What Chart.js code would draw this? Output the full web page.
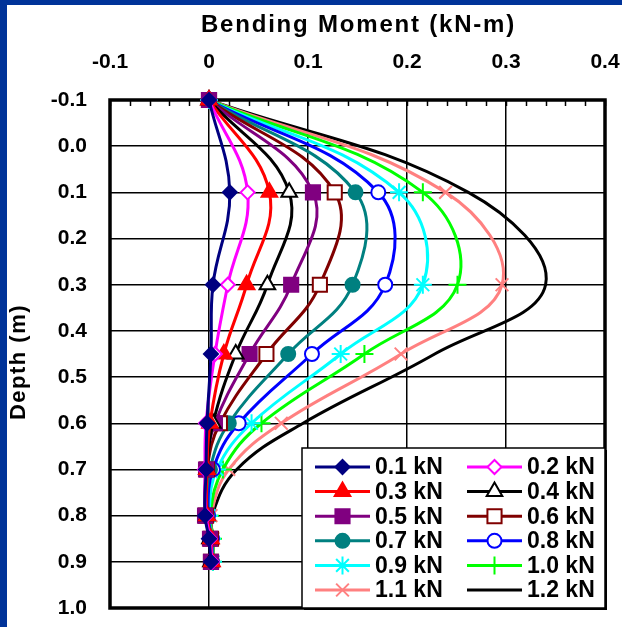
<!DOCTYPE html>
<html>
<head>
<meta charset="utf-8">
<script src="https://cdn.jsdelivr.net/npm/chart.js@4.4.1/dist/chart.umd.min.js"></script>
<style>
  html, body { margin: 0; padding: 0; background: #fff; overflow: hidden; }
  canvas { display: block; }
</style>
</head>
<body>
<canvas id="momentChart" width="622" height="627"></canvas>
<script>
// depths where the moment was measured (m)
const depths = [-0.1, 0.1, 0.3, 0.45, 0.6, 0.7, 0.8, 0.85, 0.9];

// series names (load at the top)
const loads = ['0.1 kN', '0.2 kN', '0.3 kN', '0.4 kN', '0.5 kN', '0.6 kN',
               '0.7 kN', '0.8 kN', '0.9 kN', '1.0 kN', '1.1 kN', '1.2 kN'];

// bending moment (kN-m) at each depth, one array per load
const m01 = [0, 0.021, 0.004, 0.002, -0.002, -0.003, -0.004, 0.000, 0.002];
const m02 = [0, 0.039, 0.019, 0.006, -0.003, -0.004, -0.003, 0.001, 0.003];
const m03 = [0, 0.061, 0.038, 0.015, 0.001, -0.002, -0.002, 0.002, 0.003];
const m04 = [0, 0.081, 0.059, 0.027, 0.004, -0.002, -0.002, 0.001, 0.002];
const m05 = [0, 0.105, 0.083, 0.041, 0.006, -0.003, -0.004, 0.001, 0.002];
const m06 = [0, 0.127, 0.112, 0.058, 0.011, -0.002, -0.003, 0.002, 0.002];
const m07 = [0, 0.148, 0.145, 0.080, 0.020, 0.001, -0.002, 0.002, 0.003];
const m08 = [0, 0.171, 0.178, 0.104, 0.030, 0.004, -0.001, 0.003, 0.003];
const m09 = [0, 0.192, 0.216, 0.133, 0.043, 0.008, 0.000, 0.003, 0.004];
const m10 = [0, 0.216, 0.251, 0.157, 0.053, 0.014, 0.001, 0.004, 0.004];
const m11 = [0, 0.239, 0.296, 0.194, 0.073, 0.020, 0.002, 0.004, 0.004];
const m12 = [0, 0.262, 0.340, 0.228, 0.095, 0.028, 0.003, 0.004, 0.004];

// axis ticks
const xTicks = [-0.1, 0, 0.1, 0.2, 0.3, 0.4];
const xTickLabels = ['-0.1', '0', '0.1', '0.2', '0.3', '0.4'];
const yTicks = [-0.1, 0.0, 0.1, 0.2, 0.3, 0.4, 0.5, 0.6, 0.7, 0.8, 0.9, 1.0];
const yTickLabels = ['-0.1', '0.0', '0.1', '0.2', '0.3', '0.4', '0.5', '0.6', '0.7', '0.8', '0.9', '1.0'];

const moments = [m01, m02, m03, m04, m05, m06, m07, m08, m09, m10, m11, m12];

// line colour, marker shape, marker size, hollow marker?
const styles = [
  { color: '#000080', point: 'rectRot',  r: 7,  hollow: false },
  { color: '#FF00FF', point: 'rectRot',  r: 7,  hollow: true },
  { color: '#FF0000', point: 'triangle', r: 9,  hollow: false },
  { color: '#000000', point: 'triangle', r: 9,  hollow: true },
  { color: '#800080', point: 'rect',     r: 10, hollow: false },
  { color: '#800000', point: 'rect',     r: 10, hollow: true },
  { color: '#008080', point: 'circle',   r: 7,  hollow: false },
  { color: '#0000FF', point: 'circle',   r: 7,  hollow: true },
  { color: '#00FFFF', point: 'star',     r: 9,  hollow: false },
  { color: '#00FF00', point: 'cross',    r: 9,  hollow: false },
  { color: '#FF8080', point: 'crossRot', r: 9,  hollow: false },
  { color: '#000000', point: false,      r: 0,  hollow: false }
];

Chart.defaults.font.family = '"Liberation Sans", Arial, sans-serif';
Chart.defaults.color = '#000';

const datasets = moments.map((vals, i) => {
  const s = styles[i];
  return {
    label: loads[i],
    data: depths.map((d, j) => ({ x: vals[j], y: d })),
    showLine: true,
    borderColor: s.color,
    borderWidth: 3,
    tension: 0.4,
    pointStyle: s.point,
    pointRadius: s.r,
    pointHoverRadius: s.r,
    pointBorderWidth: 2,
    pointBorderColor: s.color,
    pointBackgroundColor: s.hollow ? '#FFFFFF' : s.color,
    clip: false
  };
});

// blue frame strips, plot box, minor ticks and axis titles
const framePlugin = {
  id: 'frame',
  beforeDraw(chart) {
    const ctx = chart.ctx;
    ctx.save();
    ctx.fillStyle = '#FFFFFF';
    ctx.fillRect(0, 0, chart.width, chart.height);
    ctx.fillStyle = '#003399';
    ctx.fillRect(0, 0, chart.width, 5);
    ctx.fillRect(0, 0, 7, chart.height);
    ctx.restore();
  },
  beforeDatasetsDraw(chart) {
    const ctx = chart.ctx;
    const ca = chart.chartArea;
    const xs = chart.scales.x;
    ctx.save();
    // minor ticks along the top edge
    ctx.strokeStyle = '#000';
    ctx.lineWidth = 1.5;
    for (let k = 0; k <= 25; k++) {
      const v = -0.1 + k * 0.02;
      const px = Math.round(xs.getPixelForValue(v)) + 0.5;
      ctx.beginPath();
      ctx.moveTo(px, ca.top);
      ctx.lineTo(px, ca.top + 6);
      ctx.stroke();
    }
    // plot frame
    ctx.lineWidth = 3.5;
    ctx.strokeRect(ca.left, ca.top, ca.right - ca.left, ca.bottom - ca.top);
    ctx.restore();

    // axis titles
    ctx.save();
    ctx.fillStyle = '#000';
    ctx.textAlign = 'center';
    ctx.textBaseline = 'middle';
    ctx.font = 'bold 24px "Liberation Sans", Arial, sans-serif';
    ctx.letterSpacing = '1.8px';
    ctx.fillText('Bending Moment (kN-m)', (ca.left + ca.right) / 2 + 1, ca.top - 75);
    ctx.font = 'bold 22px "Liberation Sans", Arial, sans-serif';
    ctx.letterSpacing = '1.5px';
    ctx.translate(19, (ca.top + ca.bottom) / 2 + 8);
    ctx.rotate(-Math.PI / 2);
    ctx.fillText('Depth (m)', 0, 0);
    ctx.restore();
  }
};

// legend box in the lower right corner of the plot
const legendPlugin = {
  id: 'legendBox',
  afterDraw(chart) {
    const ctx = chart.ctx;
    const ca = chart.chartArea;
    const bw = 303, bh = 160;
    const bx = ca.right - bw, by = ca.bottom - bh;
    ctx.save();
    ctx.fillStyle = '#000';
    ctx.fillRect(bx + 2, by + 2, bw, bh);
    ctx.fillStyle = '#FFF';
    ctx.fillRect(bx, by, bw, bh);
    ctx.strokeStyle = '#000';
    ctx.lineWidth = 1.5;
    ctx.strokeRect(bx, by, bw, bh);

    ctx.font = 'bold 23px "Liberation Sans", Arial, sans-serif';
    ctx.textBaseline = 'middle';
    ctx.textAlign = 'left';
    chart.data.datasets.forEach((ds, i) => {
      const col = i % 2, row = Math.floor(i / 2);
      const lx = bx + 13 + col * 152;
      const ly = by + 19 + row * 24.6;
      ctx.strokeStyle = ds.borderColor;
      ctx.lineWidth = 3;
      ctx.beginPath();
      ctx.moveTo(lx, ly);
      ctx.lineTo(lx + 55, ly);
      ctx.stroke();
      if (ds.pointStyle) {
        ctx.fillStyle = ds.pointBackgroundColor;
        ctx.strokeStyle = ds.pointBorderColor;
        ctx.lineWidth = ds.pointBorderWidth;
        Chart.helpers.drawPoint(ctx, {
          pointStyle: ds.pointStyle, radius: ds.pointRadius,
          borderWidth: ds.pointBorderWidth, rotation: 0
        }, lx + 27.5, ly);
      }
      ctx.fillStyle = '#000';
      ctx.fillText(ds.label, lx + 60, ly + 1);
    });
    ctx.restore();
  }
};

const ctx = document.getElementById('momentChart').getContext('2d');
new Chart(ctx, {
  type: 'scatter',
  data: { datasets: datasets },
  options: {
    responsive: false,
    devicePixelRatio: 1,
    animation: false,
    layout: { padding: { left: 0, top: 0, right: 17, bottom: 19 } },
    plugins: {
      legend: { display: false },
      tooltip: { enabled: false }
    },
    scales: {
      x: {
        type: 'linear',
        position: 'top',
        min: -0.1,
        max: 0.4,
        afterBuildTicks: scale => { scale.ticks = xTicks.map(v => ({ value: v })); },
        afterFit: scale => { scale.height = 100; scale.paddingLeft = 0; scale.paddingRight = 0; },
        ticks: {
          padding: 25,
          font: { size: 21, weight: 'bold' },
          callback: (v) => xTickLabels[xTicks.findIndex(t => Math.abs(t - v) < 1e-9)]
        },
        grid: { color: '#000', lineWidth: 1.5, drawTicks: false },
        border: { display: false }
      },
      y: {
        type: 'linear',
        reverse: true,
        min: -0.1,
        max: 1.0,
        afterBuildTicks: scale => { scale.ticks = yTicks.map(v => ({ value: v })); },
        afterFit: scale => { scale.width = 110; scale.paddingTop = 0; scale.paddingBottom = 0; },
        ticks: {
          padding: 23,
          font: { size: 21, weight: 'bold' },
          callback: (v) => yTickLabels[yTicks.findIndex(t => Math.abs(t - v) < 1e-9)]
        },
        grid: { color: '#000', lineWidth: 1.5, drawTicks: false },
        border: { display: false }
      }
    }
  },
  plugins: [framePlugin, legendPlugin]
});
</script>
</body>
</html>
